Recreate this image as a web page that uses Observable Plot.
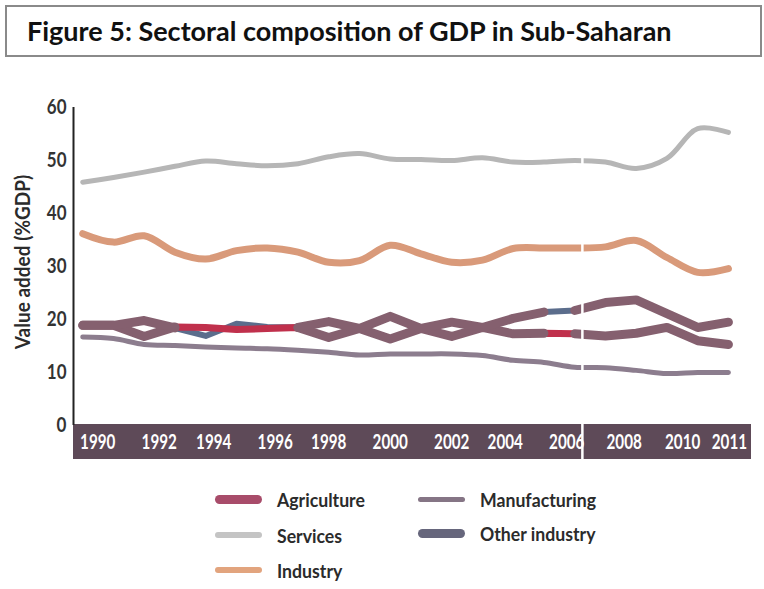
<!DOCTYPE html>
<html>
<head>
<meta charset="utf-8">
<script src="https://cdn.jsdelivr.net/npm/d3@7"></script>
<script src="https://cdn.jsdelivr.net/npm/@observablehq/plot@0.6"></script>
<style>
  html, body { margin: 0; padding: 0; background: #fff; }
  body { width: 764px; height: 589px; position: relative; overflow: hidden;
         font-family: Lato, "Open Sans", sans-serif; font-weight: bold; color: #2b2b2b; }
  #title { position: absolute; left: 5px; top: 5px; width: 757px; height: 52px; box-sizing: border-box;
           border: 2px solid #8a8a8a; font-family: Lato, "Open Sans", sans-serif; font-weight: bold;
           font-size: 27px; line-height: 48px; padding-left: 20px; color: #111; white-space: nowrap; }
  #chart { position: absolute; left: 0; top: 62px; }
  #ylabel { position: absolute; left: 22px; top: 262px; transform: translate(-50%, -50%) rotate(-90deg) scaleX(0.95);
            font-size: 20px; white-space: nowrap; color: #2b2b2b; }
  .lg { position: absolute; display: flex; align-items: center; font-size: 19px; white-space: nowrap; }
  .lg span { display: inline-block; transform: scaleX(0.93); transform-origin: left center; }
  .sw { width: 47px; border-radius: 5px; margin-right: 15px; flex: none; }
</style>
</head>
<body>
<div id="title">Figure 5: Sectoral composition of GDP in Sub-Saharan</div>
<div id="chart"></div>
<div id="ylabel">Value added (%GDP)</div>
<div id="legend"></div>
<script>
// ---- data ----
const years = [1990,1991,1992,1993,1994,1995,1996,1997,1998,1999,2000,2001,2002,2003,2004,2005,2006,2007,2008,2009,2010,2011];
const services      = [45.9,46.8,47.8,48.9,49.9,49.4,49.0,49.4,50.7,51.3,50.3,50.2,50.0,50.5,49.7,49.7,50.0,49.7,48.5,50.4,56.0,55.3];
const industry      = [36.2,34.6,35.8,32.7,31.4,33.0,33.5,32.7,30.8,31.1,34.0,32.4,30.8,31.2,33.4,33.5,33.5,33.7,34.9,31.7,28.9,29.6];
const manufacturing = [16.7,16.4,15.3,15.1,14.8,14.6,14.5,14.2,13.8,13.3,13.5,13.5,13.5,13.2,12.3,11.9,11.0,10.9,10.4,9.8,10.0,10.0];
const agriculture   = [18.9,18.9,16.8,18.6,18.5,18.1,18.3,18.5,16.6,18.3,16.3,18.3,16.8,18.5,17.3,17.4,17.3,16.9,17.4,18.5,16.0,15.3];
const otherIndustry = [18.9,18.9,19.8,18.4,16.9,19.2,18.6,18.5,19.6,18.3,20.6,18.3,19.5,18.5,20.2,21.4,21.7,23.2,23.7,21.1,18.5,19.5];
// tick labels, grouped by how far they sit from their year in the reference
const labelGroups = [
  { years: [1990,1992], dx: 15 },
  { years: [1994,1996], dx: 8 },
  { years: [1998,2000,2002], dx: 0 },
  { years: [2004,2006], dx: -8 },
  { years: [2008], dx: -12 },
  { years: [2010], dx: -15 },
  { years: [2011], dx: 1 }
];
const yTicks = [0,10,20,30,40,50,60];
const xDomain = [1989.7, 2011.75];
const breakYear = [2006.25];
// year spans where the two thick industry lines are drawn in mauve
const mauveSpans = [[1990,1993],[1997,2005],[2006,2011]];

const colors = {
  "Agriculture": "#c0304c", "Services": "#b6b6b6", "Industry": "#d99a7a",
  "Manufacturing": "#8c7d8e", "Other industry": "#5b6d8c"
};
const legendColors = {
  "Agriculture": "#a84c6a", "Services": "#c4c4c4", "Industry": "#e2a47e",
  "Manufacturing": "#857585", "Other industry": "#66667c"
};
const mauve = "#85606f";
const bandColor = "#5e4a58";

const rows = (name, vals) => years.map((yr, i) => ({series: name, year: yr, value: vals[i]}));
const dServices = rows("Services", services);
const dIndustry = rows("Industry", industry);
const dManuf = rows("Manufacturing", manufacturing);
const dAgri = rows("Agriculture", agriculture);
const dOther = rows("Other industry", otherIndustry);

const overlay = [];
mauveSpans.forEach(([a, b], k) => {
  [dAgri, dOther].forEach(ser => {
    ser.filter(d => d.year >= a && d.year <= b).forEach(d => overlay.push({...d, z: ser[0].series + k}));
  });
});

const labelMarks = labelGroups.map(g => Plot.text(g.years, {
  x: d => d, y: 0, dy: 17, dx: g.dx, text: d => String(d), fill: "#fff", fontSize: 20, fontWeight: "bold"
}));

const chart = Plot.plot({
  width: 764,
  height: 408,
  marginLeft: 73,
  marginRight: 13,
  marginTop: 45,
  marginBottom: 45,
  style: { fontFamily: 'Lato, "Open Sans", sans-serif', fontSize: "20px", fontWeight: "bold", background: "transparent", color: "#333", overflow: "visible" },
  x: { domain: xDomain, axis: null },
  y: { domain: [0, 60], ticks: yTicks, tickSize: 0, tickPadding: 7, label: null },
  marks: [
    Plot.ruleY([0], { stroke: bandColor, strokeWidth: 35, dy: 16 }),
    Plot.ruleX([xDomain[0]], { y1: 0, y2: 60, stroke: "#222", strokeWidth: 2 }),
    ...labelMarks,
    Plot.line(dServices, { x: "year", y: "value", stroke: colors["Services"], strokeWidth: 5, curve: "catmull-rom", strokeLinecap: "round" }),
    Plot.line(dIndustry, { x: "year", y: "value", stroke: colors["Industry"], strokeWidth: 7, curve: "catmull-rom", strokeLinecap: "round" }),
    Plot.line(dManuf, { x: "year", y: "value", stroke: colors["Manufacturing"], strokeWidth: 5, curve: "catmull-rom", strokeLinecap: "round" }),
    Plot.line(dOther, { x: "year", y: "value", stroke: colors["Other industry"], strokeWidth: 6, strokeLinecap: "round" }),
    Plot.line(dAgri, { x: "year", y: "value", stroke: colors["Agriculture"], strokeWidth: 7, strokeLinecap: "round" }),
    Plot.line(overlay, { x: "year", y: "value", z: "z", stroke: mauve, strokeWidth: 9, strokeLinecap: "round", strokeLinejoin: "round" }),
    Plot.ruleX(breakYear, { stroke: "#fff", strokeWidth: 2.5, insetBottom: -34 })
  ]
});
document.getElementById("chart").appendChild(chart);

// condense the chart's texts horizontally (the reference uses a condensed face)
chart.querySelectorAll("text").forEach(t => {
  const g = t.closest("g");
  const isY = g && (g.getAttribute("aria-label") || "").includes("y-axis");
  const s = isY ? 0.85 : 0.76;
  const len = t.getComputedTextLength();
  if (len > 0) {
    t.setAttribute("textLength", (len * s).toFixed(1));
    t.setAttribute("lengthAdjust", "spacingAndGlyphs");
  }
});

// ---- legend ----
const legendLayout = [
  { name: "Agriculture", left: 215, top: 499, h: 9 },
  { name: "Manufacturing", left: 418, top: 499, h: 5 },
  { name: "Services", left: 215, top: 535, h: 6 },
  { name: "Other industry", left: 418, top: 533, h: 9 },
  { name: "Industry", left: 215, top: 570, h: 6 }
];
const lg = document.getElementById("legend");
legendLayout.forEach(l => {
  const div = document.createElement("div");
  div.className = "lg";
  div.style.left = l.left + "px";
  div.style.top = (l.top - 12) + "px";
  div.style.height = "24px";
  const sw = document.createElement("div");
  sw.className = "sw";
  sw.style.height = l.h + "px";
  sw.style.background = legendColors[l.name];
  const tx = document.createElement("span");
  tx.textContent = l.name;
  div.appendChild(sw);
  div.appendChild(tx);
  lg.appendChild(div);
});
</script>
</body>
</html>
